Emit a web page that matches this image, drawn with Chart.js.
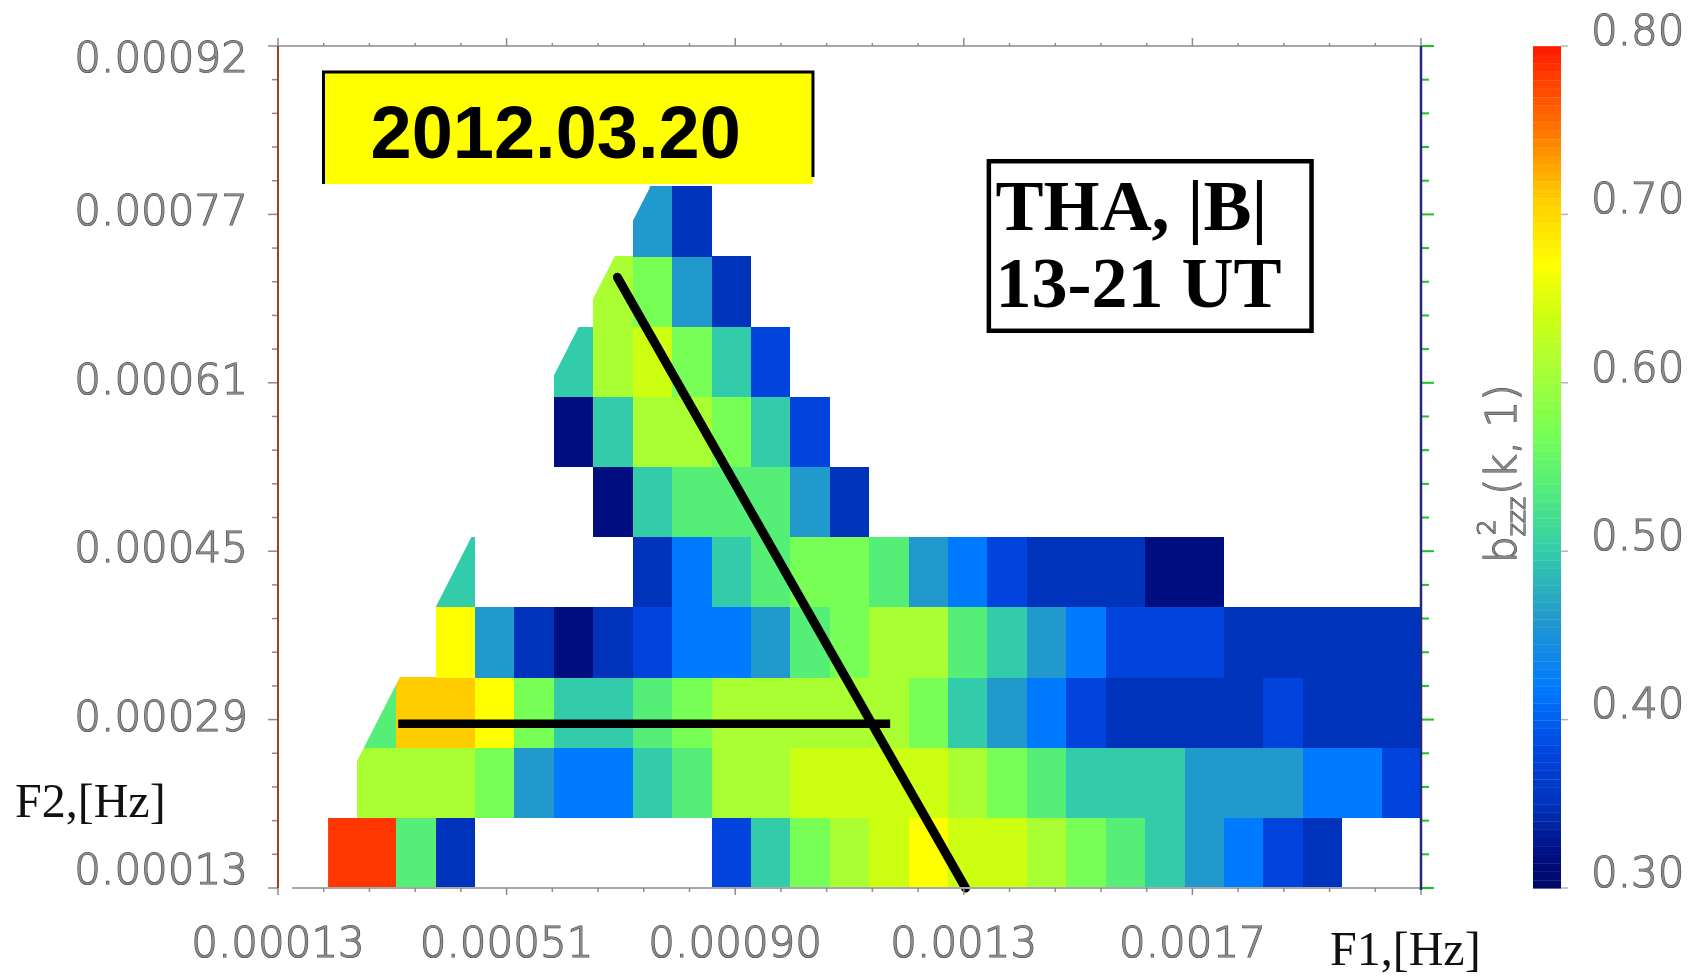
<!DOCTYPE html>
<html lang="en">
<head>
<meta charset="utf-8">
<title>THA |B| bicoherence, 2012.03.20</title>
<script src="https://cdn.jsdelivr.net/npm/chart.js@4.4.1/dist/chart.umd.min.js"></script>
<style>
  html, body { margin: 0; padding: 0; background: #fff; }
  #chart { display: block; }
</style>
</head>
<body>
<canvas id="chart" width="1691" height="976"></canvas>
<script>
    // F1 / F2 bin centres, Hz
    const f1Bins = [0.0002303, 0.0002972, 0.0003641, 0.0004310, 0.0004979, 0.0005648, 0.0006317,
                    0.0006986, 0.0007655, 0.0008324, 0.0008993, 0.0009662, 0.0010331, 0.0011000,
                    0.0011669, 0.0012338, 0.0013007, 0.0013676, 0.0014345, 0.0015014, 0.0015683,
                    0.0016352, 0.0017021, 0.0017690, 0.0018359, 0.0019028, 0.0019697, 0.0020366];
    const f2Bins = [0.0001629, 0.0002288, 0.0002946, 0.0003604, 0.0004263,
                    0.0004921, 0.0005579, 0.0006238, 0.0006896, 0.0007554];

    // b^2_zzz(k,1), one row per F2 bin (lowest first), null = no estimate
    const __ = null;
    const b2zzz = [
        [0.785, 0.785, 0.54, 0.35, __, __, __, __, __, __, 0.38, 0.50, 0.57, 0.61, 0.64, 0.67, 0.64, 0.64, 0.61, 0.57, 0.54, 0.50, 0.46, 0.42, 0.38, 0.35, __, __],
        [__, 0.61, 0.61, 0.61, 0.57, 0.46, 0.42, 0.42, 0.50, 0.54, 0.61, 0.61, 0.64, 0.64, 0.64, 0.64, 0.61, 0.57, 0.54, 0.50, 0.50, 0.50, 0.46, 0.46, 0.46, 0.42, 0.42, 0.38],
        [__, 0.54, 0.71, 0.71, 0.67, 0.57, 0.50, 0.50, 0.54, 0.57, 0.61, 0.61, 0.61, 0.61, 0.61, 0.57, 0.50, 0.46, 0.42, 0.38, 0.35, 0.35, 0.35, 0.35, 0.38, 0.35, 0.35, 0.35],
        [__, __, __, 0.67, 0.46, 0.35, 0.32, 0.35, 0.38, 0.42, 0.42, 0.46, 0.54, 0.57, 0.61, 0.61, 0.54, 0.50, 0.46, 0.42, 0.38, 0.38, 0.38, 0.35, 0.35, 0.35, 0.35, 0.35],
        [__, __, __, 0.50, __, __, __, __, 0.35, 0.42, 0.50, 0.54, 0.57, 0.57, 0.54, 0.46, 0.42, 0.38, 0.35, 0.35, 0.35, 0.32, 0.32, __, __, __, __, __],
        [__, __, __, __, __, __, __, 0.32, 0.50, 0.54, 0.54, 0.54, 0.46, 0.35, __, __, __, __, __, __, __, __, __, __, __, __, __, __],
        [__, __, __, __, __, __, 0.32, 0.50, 0.61, 0.61, 0.57, 0.50, 0.38, __, __, __, __, __, __, __, __, __, __, __, __, __, __, __],
        [__, __, __, __, __, __, 0.50, 0.61, 0.64, 0.57, 0.50, 0.38, __, __, __, __, __, __, __, __, __, __, __, __, __, __, __, __],
        [__, __, __, __, __, __, __, 0.61, 0.57, 0.46, 0.35, __, __, __, __, __, __, __, __, __, __, __, __, __, __, __, __, __],
        [__, __, __, __, __, __, __, __, 0.46, 0.35, __, __, __, __, __, __, __, __, __, __, __, __, __, __, __, __, __, __]
    ];

    // left edge of the computed region (F1, F2), bottom to top
    const edgeF1 = [0.000215, 0.000215, 0.000761];
    const edgeF2 = [0.00013, 0.000196, 0.000787];

    // marked lines: f1 + f2 = const and f2 = const
    const sumLineF1 = [0.000706, 0.001297];
    const sumLineF2 = [0.000703, 0.00013];
    const rowLineF1 = [0.000334, 0.001169];
    const rowLineF2 = [0.000284, 0.000284];

    // axes
    const xTicks = [0.00013, 0.000518, 0.000906, 0.001294, 0.001682, 0.00207];
    const xTickLabels = ['0.00013', '0.00051', '0.00090', '0.0013', '0.0017', ''];
    const yTicks = [0.00013, 0.000288, 0.000446, 0.000604, 0.000762, 0.00092];
    const yTickLabels = ['0.00013', '0.00029', '0.00045', '0.00061', '0.00077', '0.00092'];
    const cbTicks = [0.30, 0.40, 0.50, 0.60, 0.70, 0.80];
    const cbTickLabels = ['0.30', '0.40', '0.50', '0.60', '0.70', '0.80'];

    // colour table
    const cbStops = [0.30, 0.32, 0.35, 0.38, 0.42, 0.46, 0.50, 0.54, 0.57, 0.61, 0.64, 0.67, 0.71, 0.75, 0.80];
    const cbColors = ['#000866', '#000e80', '#0033bb', '#0044dd', '#007bff', '#2299cc', '#33ccaa',
                      '#55ee77', '#77ff55', '#aaff33', '#ccff11', '#ffff00', '#ffcc00', '#ff7700', '#ff1a00'];

    function hexRgb(h) {
        return [1, 3, 5].map(k => parseInt(h.substr(k, 2), 16));
    }

    function colorAt(v) {
        let k = 0;
        while (k < cbStops.length - 2 && v > cbStops[k + 1]) k++;
        const t = Math.min(1, Math.max(0, (v - cbStops[k]) / (cbStops[k + 1] - cbStops[k])));
        const c0 = hexRgb(cbColors[k]), c1 = hexRgb(cbColors[k + 1]);
        return 'rgb(' + c0.map((c, n) => Math.round(c + (c1[n] - c) * t)).join(',') + ')';
    }

    function minorTicks(majors, parts) {
        const out = [];
        for (let k = 0; k < majors.length - 1; k++) {
            for (let m = 1; m < parts; m++) {
                out.push(majors[k] + (majors[k + 1] - majors[k]) * m / parts);
            }
        }
        return out;
    }

    // pin an axis to a fixed size and drop the label overhang padding
    function pinSize(prop, px) {
        return s => {
            s[prop] = px;
            s.paddingTop = s.paddingBottom = s.paddingLeft = s.paddingRight = 0;
        };
    }

    const tickFont = {family: 'DejaVu Sans', size: 42, weight: 200};
    const tickColor = '#8c8c8c';
    const tickStroke = '#4a4a4a';

    function line(ctx, x0, y0, x1, y1) {
        ctx.beginPath();
        ctx.moveTo(x0, y0);
        ctx.lineTo(x1, y1);
        ctx.stroke();
    }

    const bispecPlugin = {
        id: 'bispec',
        beforeDatasetsDraw(chart) {
            const {ctx, chartArea: a, scales: {x, y}} = chart;
            const hw = (f1Bins[1] - f1Bins[0]) / 2;
            const hh = (f2Bins[1] - f2Bins[0]) / 2;
            ctx.save();
            ctx.beginPath();
            ctx.rect(a.left, a.top, a.width, a.height);
            ctx.clip();
            // estimates only exist to the right of the edge line
            ctx.beginPath();
            edgeF1.forEach((f, i) => {
                const px = x.getPixelForValue(f), py = y.getPixelForValue(edgeF2[i]);
                if (i) ctx.lineTo(px, py); else ctx.moveTo(px, py);
            });
            ctx.lineTo(x.getPixelForValue(edgeF1[edgeF1.length - 1]), a.top);
            ctx.lineTo(a.right, a.top);
            ctx.lineTo(a.right, a.bottom);
            ctx.closePath();
            ctx.clip();
            b2zzz.forEach((row, j) => row.forEach((v, i) => {
                if (v === null) return;
                const l = Math.round(x.getPixelForValue(f1Bins[i] - hw));
                const r = Math.round(x.getPixelForValue(f1Bins[i] + hw));
                const t = Math.round(y.getPixelForValue(f2Bins[j] + hh));
                const b = Math.round(y.getPixelForValue(f2Bins[j] - hh));
                ctx.fillStyle = colorAt(v);
                ctx.fillRect(l, t, r - l, b - t);
            }));
            ctx.restore();
        },
        afterDatasetsDraw(chart) {
            const {ctx, chartArea: a, scales: {x, y, cb}} = chart;
            ctx.save();

            // frame: gray top/bottom, brown left, navy right with green ticks
            const xMin = minorTicks(xTicks, 5), yMin = minorTicks(yTicks, 5);
            ctx.lineWidth = 2;
            ctx.strokeStyle = '#a8a8a8';
            line(ctx, a.left, a.top, a.right, a.top);
            line(ctx, a.left + 14, a.bottom, a.right + 10, a.bottom);
            ctx.lineWidth = 1.5;
            ctx.strokeStyle = '#8c8c8c';
            xTicks.forEach(v => {
                const px = x.getPixelForValue(v);
                line(ctx, px, a.top, px, a.top - 8);
                line(ctx, px, a.bottom, px, a.bottom + 7);
            });
            xMin.forEach(v => {
                const px = x.getPixelForValue(v);
                line(ctx, px, a.top, px, a.top - 3);
                line(ctx, px, a.bottom, px, a.bottom + 4);
            });
            yTicks.forEach(v => line(ctx, a.left - 10, y.getPixelForValue(v), a.left, y.getPixelForValue(v)));
            yMin.forEach(v => line(ctx, a.left - 6, y.getPixelForValue(v), a.left, y.getPixelForValue(v)));
            ctx.lineWidth = 2;
            ctx.strokeStyle = '#a2401e';
            line(ctx, a.left, a.top, a.left, a.bottom);
            ctx.strokeStyle = '#1fc21f';
            yTicks.forEach(v => line(ctx, a.right, y.getPixelForValue(v), a.right + 13, y.getPixelForValue(v)));
            yMin.forEach(v => line(ctx, a.right, y.getPixelForValue(v), a.right + 8, y.getPixelForValue(v)));
            ctx.lineWidth = 2.5;
            ctx.strokeStyle = '#282878';
            line(ctx, a.right, a.top, a.right, a.bottom + 2);

            // colour bar
            const bx = cb.left + 112, bw = 28;
            const bands = 100;
            for (let k = 0; k < bands; k++) {
                const v0 = cb.min + (cb.max - cb.min) * k / bands;
                const v1 = cb.min + (cb.max - cb.min) * (k + 1) / bands;
                const yb = cb.getPixelForValue(v0), yt = cb.getPixelForValue(v1);
                ctx.fillStyle = colorAt((v0 + v1) / 2);
                ctx.fillRect(bx, yt, bw, yb - yt + 0.6);
                ctx.fillStyle = 'rgba(255,255,255,0.16)';
                ctx.fillRect(bx, Math.round(yt), bw, 1);
            }
            ctx.strokeStyle = '#b4b4b4';
            ctx.lineWidth = 1.5;
            cbTicks.forEach(v => {
                const py = cb.getPixelForValue(v);
                line(ctx, bx + bw, py, bx + bw + 7, py);
            });

            // colour bar title, reading upward
            ctx.save();
            ctx.translate(cb.left + 80, a.top + (a.bottom - a.top) * 0.508);
            ctx.rotate(-Math.PI / 2);
            const big = '200 42px "DejaVu Sans"', small = '200 25px "DejaVu Sans"';
            ctx.font = big;
            const wB = ctx.measureText('b').width, wTail = ctx.measureText('(k, 1)').width;
            ctx.font = small;
            const wSub = ctx.measureText('zzz').width;
            let cx = -(wB + wSub + 2 + wTail) / 2;
            ctx.fillStyle = tickColor;
            ctx.strokeStyle = tickStroke;
            ctx.lineWidth = 1.2;
            ctx.textBaseline = 'alphabetic';
            const draw = (s, f, dx, dy) => {
                ctx.font = f;
                ctx.strokeText(s, cx + dx, dy);
                ctx.fillText(s, cx + dx, dy);
            };
            draw('b', big, 0, 15);
            cx += wB;
            draw('2', small, 1, -6);
            draw('zzz', small, 0, 24);
            cx += wSub + 2;
            draw('(k, 1)', big, 0, 15);
            ctx.restore();

            // axis names
            ctx.fillStyle = '#111';
            ctx.font = '48px "Liberation Serif"';
            ctx.textBaseline = 'alphabetic';
            ctx.fillText('F2,[Hz]', 15, 817);
            ctx.fillText('F1,[Hz]', a.right - 91, 965);

            // date box
            const dl = x.getPixelForValue(0.0002072), dr = x.getPixelForValue(0.001038);
            const dt = y.getPixelForValue(0.0008956), db = y.getPixelForValue(0.0007905);
            ctx.fillStyle = '#ffff00';
            ctx.fillRect(dl, dt, dr - dl, db - dt);
            ctx.strokeStyle = '#000';
            ctx.lineWidth = 3;
            ctx.beginPath();
            ctx.moveTo(dl, db);
            ctx.lineTo(dl, dt);
            ctx.lineTo(dr, dt);
            ctx.lineTo(dr, db - 7);
            ctx.stroke();
            ctx.fillStyle = '#000';
            ctx.font = 'bold 74px "Liberation Sans"';
            ctx.fillText('2012.03.20', dl + 47, dt + 86);

            // spacecraft / interval box
            const tl = x.getPixelForValue(0.0013327), tr = x.getPixelForValue(0.001888);
            const tt = y.getPixelForValue(0.000814), tb = y.getPixelForValue(0.0006507);
            ctx.fillStyle = '#fff';
            ctx.fillRect(tl, tt, tr - tl, tb - tt);
            ctx.lineWidth = 4.5;
            ctx.strokeRect(tl + 2.25, tt + 2.25, tr - tl - 4.5, tb - tt - 4.5);
            ctx.fillStyle = '#000';
            ctx.font = 'bold 72px "Liberation Serif"';
            ctx.fillText('THA, |B|', tl + 9, tt + 71);
            ctx.fillText('13-21 UT', tl + 9, tt + 148);

            ctx.restore();
        }
    };

    const chart = new Chart(document.getElementById('chart'), {
        type: 'scatter',
        data: {
            datasets: [
                {
                    data: sumLineF1.map((f, i) => ({x: f, y: sumLineF2[i]})),
                    showLine: true,
                    borderColor: '#000',
                    borderWidth: 9,
                    borderCapStyle: 'round',
                    pointRadius: 0,
                    clip: 12
                },
                {
                    data: rowLineF1.map((f, i) => ({x: f, y: rowLineF2[i]})),
                    showLine: true,
                    borderColor: '#000',
                    borderWidth: 8.5,
                    borderCapStyle: 'butt',
                    pointRadius: 0,
                    clip: 12
                }
            ]
        },
        options: {
            responsive: false,
            devicePixelRatio: 1,
            animation: false,
            events: [],
            layout: {padding: {top: 46, left: 0, right: 0, bottom: 0}},
            plugins: {legend: {display: false}, tooltip: {enabled: false}},
            scales: {
                x: {
                    type: 'linear',
                    position: 'bottom',
                    min: xTicks[0],
                    max: xTicks[xTicks.length - 1],
                    grid: {display: false, drawTicks: false},
                    border: {display: false},
                    afterBuildTicks: s => { s.ticks = xTicks.map(v => ({value: v})); },
                    afterFit: pinSize('height', 88),
                    ticks: {
                        autoSkip: false,
                        maxRotation: 0,
                        padding: 33,
                        font: tickFont,
                        color: tickColor,
                        textStrokeColor: tickStroke,
                        textStrokeWidth: 1.2,
                        callback: (v, i) => xTickLabels[i]
                    }
                },
                y: {
                    type: 'linear',
                    position: 'left',
                    min: yTicks[0],
                    max: yTicks[yTicks.length - 1],
                    grid: {display: false, drawTicks: false},
                    border: {display: false},
                    afterBuildTicks: s => { s.ticks = yTicks.map(v => ({value: v})); },
                    afterFit: pinSize('width', 278),
                    ticks: {
                        autoSkip: false,
                        padding: 30,
                        // end labels sit half a line inside the axis ends
                        font: {...tickFont, lineHeight: 0.72},
                        color: tickColor,
                        textStrokeColor: tickStroke,
                        textStrokeWidth: 1.2,
                        callback: (v, i) => {
                            if (i === 0) return [yTickLabels[i], ''];
                            if (i === yTicks.length - 1) return ['', yTickLabels[i]];
                            return yTickLabels[i];
                        }
                    }
                },
                cb: {
                    type: 'linear',
                    axis: 'y',
                    position: 'right',
                    min: cbTicks[0],
                    max: cbTicks[cbTicks.length - 1],
                    grid: {display: false, drawTicks: false},
                    border: {display: false},
                    afterBuildTicks: s => { s.ticks = cbTicks.map(v => ({value: v})); },
                    afterFit: pinSize('width', 270),
                    ticks: {
                        autoSkip: false,
                        padding: 170,
                        // labels ride a little above their tick
                        font: {...tickFont, lineHeight: 0.58},
                        color: tickColor,
                        textStrokeColor: tickStroke,
                        textStrokeWidth: 1.2,
                        callback: (v, i) => [cbTickLabels[i], '']
                    }
                }
            }
        },
        plugins: [bispecPlugin]
    });
</script>
</body>
</html>
